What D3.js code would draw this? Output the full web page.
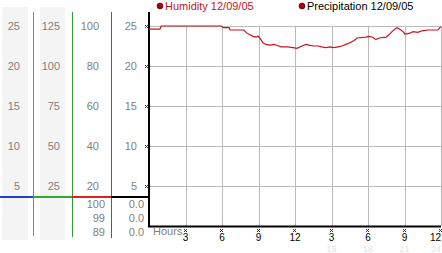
<!DOCTYPE html>
<html lang="en">
<head>
  <meta charset="UTF-8">
  <title>Humidity 12/09/05</title>
  <script src="https://cdnjs.cloudflare.com/ajax/libs/d3/7.8.5/d3.min.js"></script>
  <style>
    body { margin: 0; background: white; }
    svg { display: block; font-family: "Liberation Sans", Arial, sans-serif; font-size: 11px; }
  </style>
</head>
<body>
  <script>
    // humidity trace, hours 0..24
    var hours = [0, 0.9, 1.0, 5.95, 6.1, 6.6, 6.65, 7.8, 7.97, 8.3, 8.55, 8.8, 8.96, 9.2, 9.37, 9.6, 9.95, 10.27,
      10.5, 10.85, 11.4, 11.83, 12.16, 12.57, 12.9, 13.15, 13.5, 13.9, 14.2, 14.55, 14.87, 15.2,
      15.53, 15.86, 16.19, 16.52, 16.85, 17.1, 17.83, 18.08, 18.4, 18.65, 18.9, 19.48, 19.72,
      19.97, 20.2, 20.38, 20.62, 20.87, 21.04, 21.45, 21.7, 22.1, 22.44, 22.93, 23.75, 23.9, 24];
    var humidity = [24.6, 24.6, 25.0, 25.0, 24.8, 24.8, 24.5, 24.5, 24.2, 23.9, 23.7, 23.6, 23.75, 23.3, 22.9, 22.7,
      22.6, 22.7, 22.6, 22.4, 22.4, 22.3, 22.2, 22.5, 22.7, 22.6, 22.5, 22.5, 22.4, 22.3, 22.4,
      22.3, 22.4, 22.5, 22.7, 22.9, 23.2, 23.5, 23.6, 23.7, 23.6, 23.3, 23.5, 23.6, 23.9, 24.3,
      24.6, 24.8, 24.6, 24.3, 24.0, 24.1, 24.3, 24.2, 24.4, 24.5, 24.5, 24.8, 24.9];

    var col1Ticks = [25, 20, 15, 10, 5];
    var col2Ticks = [125, 100, 75, 50, 25];
    var col3Ticks = [100, 80, 60, 40, 20];
    var col4Ticks = [25, 20, 15, 10, 5];
    var col3Low = ["100", "99", "89"];
    var col4Low = ["0.0", "0.0", "0.0"];
    var xTicks = [3, 6, 9, 12, 15, 18, 21, 24];
    var xLabels = ["3", "6", "9", "12", "3", "6", "9", "12"];
    var xFaint = [15, 18, 21, 24];
    var legend = ["Humidity 12/09/05", "Precipitation 12/09/05"];

    var w = 442, h = 253;

    var svg = d3.select("body").append("svg")
      .attr("width", w)
      .attr("height", h);

    var x = d3.scaleLinear().domain([0, 24]).range([149, 441]);
    var y = d3.scaleLinear().domain([0, 25]).range([226, 26]);
    var y2 = d3.scaleLinear().domain([0, 125]).range([226, 26]);
    var y3 = d3.scaleLinear().domain([0, 100]).range([226, 26]);
    var yLow = d3.scaleLinear().domain([0, 2]).range([204, 232]);

    // shaded label columns
    svg.append("rect").attr("x", 2).attr("y", 7).attr("width", 26).attr("height", 233).attr("fill", "#f4f4f4");
    svg.append("rect").attr("x", 40).attr("y", 7).attr("width", 25).attr("height", 233).attr("fill", "#f4f4f4");

    // gridlines
    svg.selectAll(".hgrid")
      .data(col4Ticks)
      .enter().append("line")
      .attr("x1", x(0)).attr("x2", x(24))
      .attr("y1", function(d) { return y(d) + 0.5; })
      .attr("y2", function(d) { return y(d) + 0.5; })
      .attr("stroke", "#bbb");
    svg.selectAll(".vgrid")
      .data(xTicks)
      .enter().append("line")
      .attr("x1", function(d) { return Math.round(x(d)) + 0.5; })
      .attr("x2", function(d) { return Math.round(x(d)) + 0.5; })
      .attr("y1", y(25)).attr("y2", y(0))
      .attr("stroke", "#bbb");

    // column divider lines
    var dividers = [[33.5, "#2a9fc8", 236], [72.5, "#2ca02c", 237], [111.5, "#c8302c", 238]];
    dividers.forEach(function(d) {
      svg.append("line").attr("x1", d[0]).attr("x2", d[0]).attr("y1", 12).attr("y2", d[2])
        .attr("stroke", d[1]);
    });

    // coloured base line
    var base = [[0, 33, "#1e3fd8"], [33, 72, "#2cb02c"], [72, 111, "#e02020"], [111, 149, "#000"]];
    base.forEach(function(d) {
      svg.append("line").attr("x1", d[0]).attr("x2", d[1]).attr("y1", 197).attr("y2", 197)
        .attr("stroke", d[2]).attr("stroke-width", 2);
    });

    // axes
    svg.append("line").attr("x1", 149).attr("x2", 149).attr("y1", 12).attr("y2", 227)
      .attr("stroke", "#000").attr("stroke-width", 2);
    svg.append("line").attr("x1", 148).attr("x2", 441).attr("y1", 226.5).attr("y2", 226.5)
      .attr("stroke", "#000").attr("stroke-width", 2);

    // column labels
    function colLabels(data, scale, right) {
      svg.append("g").selectAll("text")
        .data(data)
        .enter().append("text")
        .attr("x", right)
        .attr("y", function(d) { return scale(d) + 4; })
        .attr("text-anchor", "end")
        .attr("fill", "#808080")
        .text(function(d) { return d; });
    }
    colLabels(col1Ticks, y, 20);
    colLabels(col2Ticks, y2, 60);
    colLabels(col3Ticks, y3, 99);
    colLabels(col4Ticks, y, 137);

    function lowLabels(data, right) {
      svg.append("g").selectAll("text")
        .data(data)
        .enter().append("text")
        .attr("x", right)
        .attr("y", function(d, i) { return yLow(i) + 4; })
        .attr("text-anchor", "end")
        .attr("fill", "#808080")
        .text(function(d) { return d; });
    }
    lowLabels(col3Low, 105);
    lowLabels(col4Low, 144);

    // little tick markers
    function marker(cx, cy) {
      var g = svg.append("g").attr("fill", "#333");
      [[-1, -1], [1, -1], [0, 0], [-1, 1], [1, 1]].forEach(function(p) {
        g.append("rect").attr("x", cx + p[0]).attr("y", cy + p[1]).attr("width", 1).attr("height", 1);
      });
    }
    col4Ticks.forEach(function(d) { marker(146, y(d)); });
    xTicks.forEach(function(d) { marker(Math.round(x(d)) - 1, 230); });

    // x labels
    svg.append("text").attr("x", 153).attr("y", 235).attr("fill", "#808080").text("Hours");
    svg.append("g").selectAll("text")
      .data(xTicks)
      .enter().append("text")
      .attr("x", function(d) { return x(d); })
      .attr("y", 241)
      .attr("font-size", 10)
      .attr("text-anchor", function(d, i) { return i === xTicks.length - 1 ? "end" : "middle"; })
      .attr("fill", "#000")
      .text(function(d, i) { return xLabels[i]; });
    svg.append("g").selectAll("text")
      .data(xFaint)
      .enter().append("text")
      .attr("x", function(d) { return x(d); })
      .attr("y", 252)
      .attr("font-size", 9)
      .attr("text-anchor", function(d, i) { return i === xFaint.length - 1 ? "end" : "middle"; })
      .attr("fill", "#e4e4e4")
      .text(function(d) { return d; });

    // humidity line
    var line = d3.line()
      .x(function(d, i) { return x(hours[i]); })
      .y(function(d) { return y(d); });
    svg.append("path")
      .datum(humidity)
      .attr("d", line)
      .attr("fill", "none")
      .attr("stroke", "#c8141e")
      .attr("stroke-width", 1.2);

    // legend
    var lx = [160, 302];
    var lcol = ["#c8141e", "#000"];
    legend.forEach(function(t, i) {
      svg.append("circle").attr("cx", lx[i]).attr("cy", 6).attr("r", 3)
        .attr("fill", "#a00010").attr("stroke", "#400").attr("stroke-width", 0.6);
      svg.append("text").attr("x", lx[i] + 5).attr("y", 10).attr("fill", lcol[i]).text(t);
    });
  </script>
</body>
</html>
